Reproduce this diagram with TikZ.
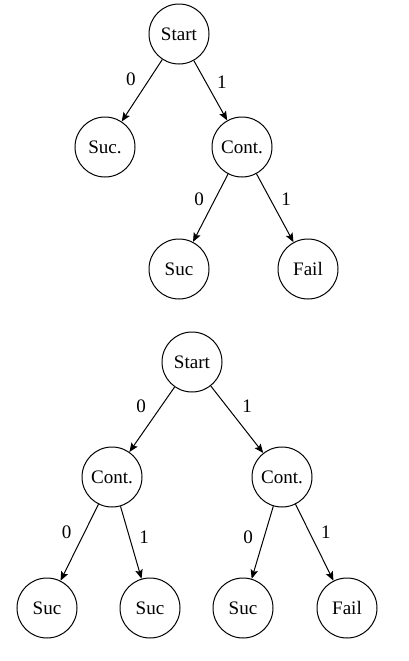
\documentclass[tikz,border=0pt]{standalone}
\usepackage{fontspec}
\setmainfont{Liberation Serif}
\usepackage{tikz}
\usetikzlibrary{arrows.meta}
\usetikzlibrary{positioning}

\begin{document}
\begin{tikzpicture}[
    x=0.75pt, y=-0.75pt,
    state/.style={%
      draw,
      circle,
      line width=0.75pt,
      minimum size=45pt,
      inner sep=0pt,
      font=\fontsize{14.3}{17}\selectfont,
    },
    edge/.style={%
      draw,
      line width=0.75pt,
      -{Stealth[length=6.8pt,width=5.6pt,inset=1.3pt]},
    },
    lbl/.style={%
      inner sep=0pt,
      font=\fontsize{14.3}{17}\selectfont,
    },
  ]
    \useasboundingbox (0,0) rectangle (408,661);

    % first tree
    \node [state] (A) at (179,34) {Start};
    \path (A) ++(-74,113) node [state] (B) {Suc.};
    \path (A) ++(63,113) node [state] (C) {Cont.};
    \path (C) ++(-63,122) node [state] (D) {Suc};
    \path (C) ++(66,122) node [state] (E) {Fail};

    \draw [edge] (A) -- (B) node [lbl,pos=0.317,xshift=-13.9pt] {0};
    \draw [edge] (A) -- (C) node [lbl,pos=0.36,xshift=12pt] {1};
    \draw [edge] (C) -- (D) node [lbl,pos=0.369,xshift=-12pt] {0};
    \draw [edge] (C) -- (E) node [lbl,pos=0.37,xshift=12pt] {1};

    % second tree
    \node [state] (F) at (192,362) {Start};
    \path (F) ++(-80,115) node [state] (G) {Cont.};
    \path (F) ++(90,115) node [state] (H) {Cont.};
    \path (G) ++(-65,131) node [state] (0) {Suc};
    \path (G) ++(38,131) node [state] (1) {Suc};
    \path (H) ++(-39,131) node [state] (2) {Suc};
    \path (H) ++(65,131) node [state] (3) {Fail};

    \draw [edge] (F) -- (G) node [lbl,pos=0.295,xshift=-15pt] {0};
    \draw [edge] (F) -- (H) node [lbl,pos=0.30,xshift=15.4pt] {1};
    \draw [edge] (G) -- (0) node [lbl,pos=0.364,xshift=-13.5pt] {0};
    \draw [edge] (G) -- (1) node [lbl,pos=0.425,xshift=11pt] {1};
    \draw [edge] (H) -- (2) node [lbl,pos=0.425,xshift=-12pt] {0};
    \draw [edge] (H) -- (3) node [lbl,pos=0.364,xshift=12.5pt] {1};
\end{tikzpicture}
\end{document}
